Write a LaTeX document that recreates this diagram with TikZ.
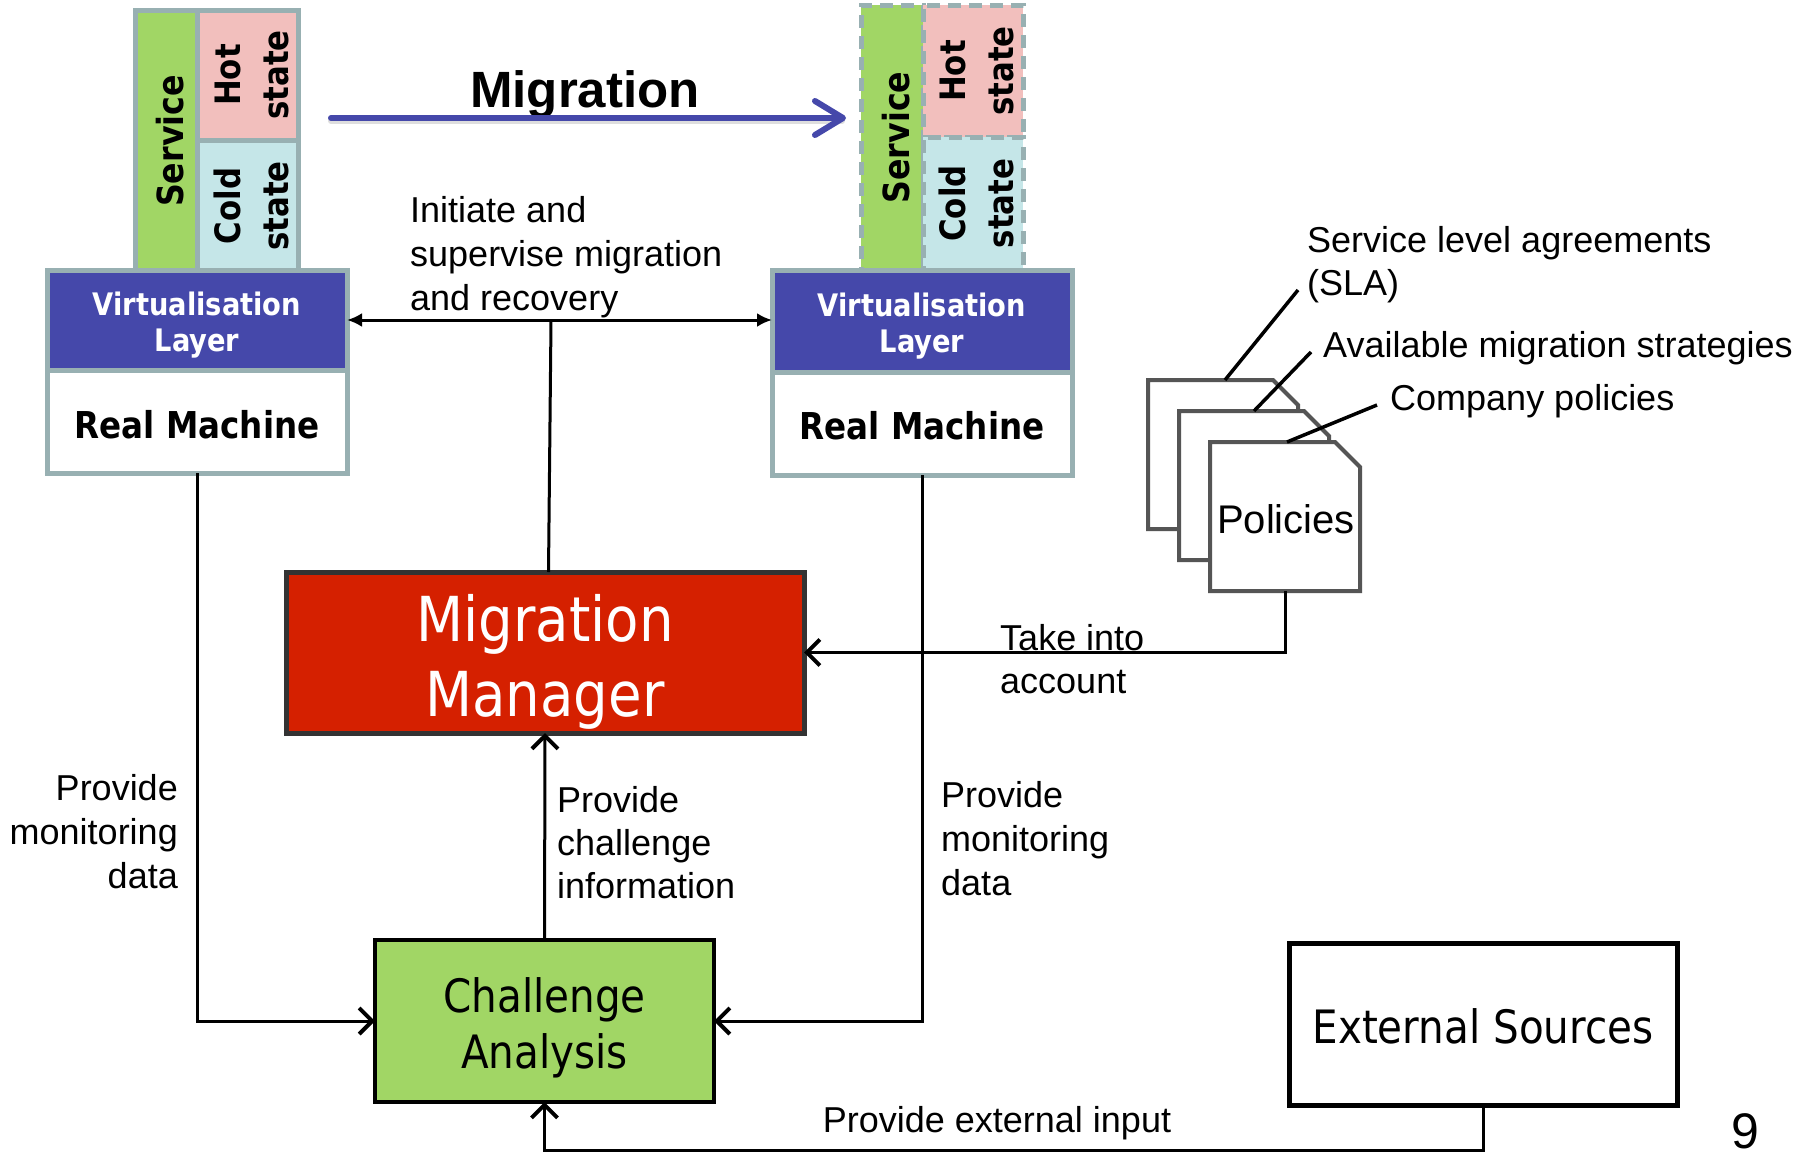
\documentclass[tikz,border=0pt]{standalone}
\usepackage{fontspec}
\setmainfont{Liberation Sans}
\newfontfamily\tah[FakeStretch=0.88]{DejaVu Sans}
\usetikzlibrary{arrows.meta}
\definecolor{stackgray}{RGB}{152,176,178}
\definecolor{vlblue}{RGB}{69,72,170}
\definecolor{svcgreen}{RGB}{161,214,101}
\definecolor{hotpink}{RGB}{242,191,189}
\definecolor{coldblue}{RGB}{197,230,232}
\definecolor{mmred}{RGB}{213,32,0}
\definecolor{mmborder}{RGB}{51,51,51}
\definecolor{docgray}{RGB}{85,85,85}
\newcommand\docshape[1]{\path[docst] (#1.north west) -- ([xshift=-25pt]#1.north east) -- ([yshift=-25pt]#1.north east) -- (#1.south east) -- (#1.south west) -- cycle;}
\tikzset{
  box/.style={rectangle, inner sep=0pt, outer sep=0pt},
  stk/.style={box, draw=stackgray, line width=5pt},
  stkd/.style={stk, dash pattern=on 13pt off 8pt},
  vtxt/.style={rotate=90, anchor=base, inner sep=0pt, font=\tah\bfseries\fontsize{35pt}{35pt}\selectfont},
  svtxt/.style={vtxt, font=\tah\bfseries\fontsize{36pt}{36pt}\selectfont},
  vltxt/.style={anchor=base, inner sep=0pt, text=white, font=\tah\bfseries\fontsize{31pt}{31pt}\selectfont},
  rmtxt/.style={anchor=base, inner sep=0pt, font=\tah\bfseries\fontsize{37pt}{37pt}\selectfont},
  lbl/.style={inner sep=0pt, font=\fontsize{36pt}{44pt}\selectfont},
  bigtxt/.style={anchor=base, inner sep=0pt, font=\tah\fontsize{46pt}{46pt}\selectfont},
  conn/.style={line width=3pt, -{Straight Barb[length=13pt,width=26pt,line width=4pt]}},
  docst/.style={draw=docgray, line width=4pt, fill=white, line join=miter},
}
\begin{document}
\begin{tikzpicture}[x=1pt, y=-1pt]
\useasboundingbox (0,0) rectangle (1809,1159);
\fill[white] (0,0) rectangle (1809,1159);

% ---- left stack
\node[stk, fill=svcgreen, minimum width=62pt, minimum height=262pt] (svc1) at (166,141) {};
\node[stk, fill=hotpink, minimum width=101pt, minimum height=130pt] (hot1) at (247.5,75) {};
\node[stk, fill=coldblue, minimum width=101pt, minimum height=132pt] (cold1) at (247.5,206) {};
\node[svtxt] (svc1t) at (183,141) {Service};
\node[vtxt] (hot1a) at (240,75) {Hot};
\node[vtxt] (hot1b) at (288,75) {state};
\node[vtxt] (cold1a) at (240,206) {Cold};
\node[vtxt] (cold1b) at (288,206) {state};
\node[stk, fill=vlblue, minimum width=300pt, minimum height=100pt] (vl1) at (197,320) {};
\node[stk, fill=white, minimum width=300pt, minimum height=103pt] (rm1) at (197,421.5) {};
\node[vltxt] (vl1a) at (197,315) {Virtualisation};
\node[vltxt] (vl1b) at (197,351) {Layer};
\node[rmtxt] (rm1t) at (197,438) {Real Machine};

% ---- right stack
\node[stkd, fill=svcgreen, minimum width=62pt, minimum height=265pt] (svc2) at (892,137.5) {};
\node[stkd, fill=hotpink, minimum width=100pt, minimum height=132pt] (hot2) at (973,71) {};
\node[stkd, fill=coldblue, minimum width=100pt, minimum height=133pt] (cold2) at (973,203.5) {};
\node[svtxt] (svc2t) at (909,137.5) {Service};
\node[vtxt] (hot2a) at (965,71) {Hot};
\node[vtxt] (hot2b) at (1013,71) {state};
\node[vtxt] (cold2a) at (965,203.5) {Cold};
\node[vtxt] (cold2b) at (1013,203.5) {state};
\node[stk, fill=vlblue, minimum width=300pt, minimum height=102pt] (vl2) at (922,321) {};
\node[stk, fill=white, minimum width=300pt, minimum height=103pt] (rm2) at (922,423.5) {};
\node[vltxt] (vl2a) at (922,316) {Virtualisation};
\node[vltxt] (vl2b) at (922,352) {Layer};
\node[rmtxt] (rm2t) at (922,439) {Real Machine};

% ---- migration arrow
\node[anchor=base, inner sep=0pt, font=\bfseries\fontsize{51pt}{51pt}\selectfont] (migt) at (585,107) {Migration};
\coordinate (ma1) at (331,118);
\coordinate (ma2) at (846,118);
\draw[black!25, line width=6pt, line cap=round, opacity=0.5] ([yshift=-3pt]ma1) -- ([yshift=-3pt,xshift=-4pt]ma2);
\draw[vlblue, line width=6pt, line cap=round, -{Straight Barb[length=28pt,width=34pt,round]}] (ma1) -- (ma2);

% ---- initiate arrow
\draw[line width=3pt, {Latex[length=15pt,width=14pt]}-{Latex[length=15pt,width=14pt]}] (vl1.east) -- (vl1.east -| vl2.west);
\node[lbl, anchor=base west] (in1) at (410,222) {Initiate and};
\node[lbl, anchor=base west] (in2) at (410,266) {supervise migration};
\node[lbl, anchor=base west] (in3) at (410,310) {and recovery};

% ---- migration manager
\node[box, draw=mmborder, fill=mmred, line width=5pt, minimum width=518pt, minimum height=161pt] (mm) at (545,652.5) {};
\node[anchor=base, inner sep=0pt, text=white, font=\tah\fontsize{62pt}{62pt}\selectfont] (mma) at (545,641) {Migration};
\node[anchor=base, inner sep=0pt, text=white, font=\tah\fontsize{62pt}{62pt}\selectfont] (mmb) at (545,716) {Manager};
\coordinate (jn) at (551,321);
\draw[line width=3pt] ([xshift=3.5pt]mm.north) -- (jn);

% ---- challenge analysis
\node[box, draw=black, fill=svcgreen, line width=4.5pt, minimum width=339pt, minimum height=162pt] (ca) at (544.5,1021) {};
\node[bigtxt] (caa) at (544.5,1012) {Challenge};
\node[bigtxt] (cab) at (544.5,1068) {Analysis};

% ---- external sources
\node[box, draw=black, fill=white, line width=5pt, minimum width=388pt, minimum height=162pt] (es) at (1483,1024) {};
\node[bigtxt] (est) at (1483,1043) {External Sources};

% ---- policies documents
\node[box, minimum width=150pt, minimum height=149pt] (doc1) at (1223,454.5) {};
\node[box, minimum width=150pt, minimum height=149pt] (doc2) at (1254,485.5) {};
\node[box, minimum width=150pt, minimum height=149pt] (doc3) at (1285,516.5) {};
\docshape{doc1}
\docshape{doc2}
\docshape{doc3}
\node[anchor=base, inner sep=0pt, font=\fontsize{40pt}{40pt}\selectfont] (polt) at (1286,533) {Policies};
\coordinate (l1) at (1298,290);
\coordinate (l2) at (1311,352);
\coordinate (l3) at (1377,405);
\draw[line width=3.5pt] ([xshift=2pt]doc1.north) -- (l1);
\draw[line width=3.5pt] (doc2.north) -- (l2);
\draw[line width=3.5pt] ([xshift=2pt]doc3.north) -- (l3);
\node[lbl, anchor=base west] (sla1) at (1307,252) {Service level agreements};
\node[lbl, anchor=base west] (sla2) at (1307,295) {(SLA)};
\node[lbl, anchor=base west] (ams) at (1323,357) {Available migration strategies};
\node[lbl, anchor=base west] (cp) at (1390,410) {Company policies};

% ---- connectors
\draw[conn] (rm1.south) |- (ca.west);
\draw[conn] (rm2.south) |- (ca.east);
\draw[conn] (ca.north) -- (mm.south);
\draw[conn] (doc3.south) |- (mm.east);
\coordinate (eb) at (1483,1150);
\draw[conn] (es.south) -- (eb) -| (ca.south);

% ---- labels
\node[lbl, anchor=base west] (ta1) at (1000,650) {Take into};
\node[lbl, anchor=base west] (ta2) at (1000,693) {account};
\node[lbl, anchor=base east] (pl1) at (178,800) {Provide};
\node[lbl, anchor=base east] (pl2) at (178,844) {monitoring};
\node[lbl, anchor=base east] (pl3) at (178,888) {data};
\node[lbl, anchor=base west] (pr1) at (941,807) {Provide};
\node[lbl, anchor=base west] (pr2) at (941,851) {monitoring};
\node[lbl, anchor=base west] (pr3) at (941,895) {data};
\node[lbl, anchor=base west] (pc1) at (557,812) {Provide};
\node[lbl, anchor=base west] (pc2) at (557,855) {challenge};
\node[lbl, anchor=base west] (pc3) at (557,898) {information};
\node[lbl, anchor=base] (pe) at (997,1132) {Provide external input};
\node[anchor=base, inner sep=0pt, font=\fontsize{50pt}{50pt}\selectfont] (pg) at (1745,1148) {9};
\end{tikzpicture}
\end{document}
